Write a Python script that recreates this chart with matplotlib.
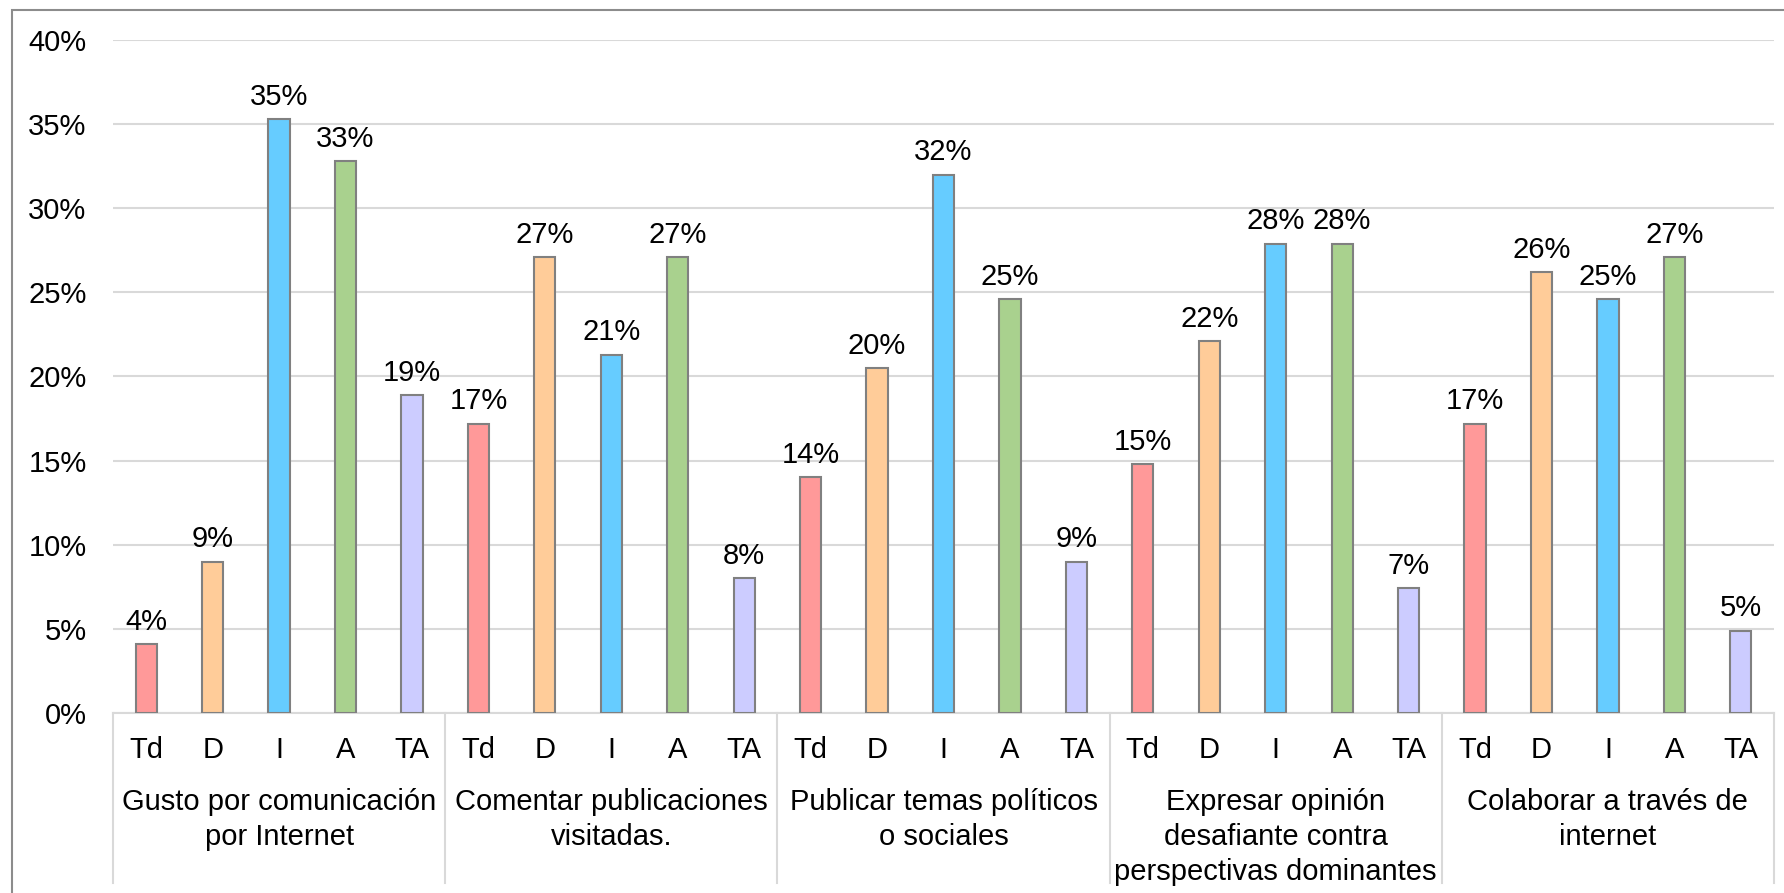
import numpy as np
import matplotlib.pyplot as plt
from matplotlib.patches import Rectangle
import matplotlib.transforms as mtransforms

plt.rcParams['font.family'] = ['Liberation Sans', 'DejaVu Sans']

grupos = ["Gusto por comunicación\npor Internet",
          "Comentar publicaciones\nvisitadas.",
          "Publicar temas políticos\no sociales",
          "Expresar opinión\ndesafiante contra\nperspectivas dominantes",
          "Colaborar a través de\ninternet"]
respuestas = ["Td", "D", "I", "A", "TA"]
colores = ["#FF9999", "#FFCC99", "#66CCFF", "#A9D18E", "#CCCCFF"]

gusto = [4.1, 9.0, 35.3, 32.8, 18.9]
comentar = [17.2, 27.1, 21.3, 27.1, 8.0]
publicar = [14.0, 20.5, 32.0, 24.6, 9.0]
expresar = [14.8, 22.1, 27.9, 27.9, 7.4]
colaborar = [17.2, 26.2, 24.6, 27.1, 4.9]

valores = [gusto, comentar, publicar, expresar, colaborar]

W, H = 1784, 893
fs = 21
fig = plt.figure(figsize=(W / 100, H / 100), dpi=100)
ax = fig.add_axes([113 / W, 1 - 713 / H, (1774 - 113) / W, (713 - 40) / H])

# marco exterior
fig.patches.append(Rectangle((12 / W, -0.2), 1.5, 1 - 10 / H + 0.2, transform=fig.transFigure,
                             fill=False, edgecolor="#8c8c8c", lw=1.5, clip_on=False))

x = 0
pos = []
etiquetas = []
for g, vals in enumerate(valores):
    for i, v in enumerate(vals):
        ax.bar(x, v, width=0.32, color=colores[i], edgecolor="#808080", linewidth=1.5, zorder=3)
        ax.annotate(f"{round(v):.0f}%", (x, v), xytext=(0, 6), textcoords="offset points",
                    ha="center", va="bottom", fontsize=fs)
        pos.append(x)
        etiquetas.append(respuestas[i])
        x += 1

n = len(pos)
ax.set_xlim(-0.5, n - 0.5)
ax.set_ylim(0, 40)
ax.set_yticks(np.arange(0, 41, 5))
ax.set_yticklabels([f"{t}%" for t in range(0, 41, 5)])
ax.set_xticks(pos)
ax.set_xticklabels(etiquetas)
ax.tick_params(axis="both", length=0, labelsize=fs)
ax.tick_params(axis="y", pad=19)
ax.tick_params(axis="x", pad=16.5)
ax.grid(axis="y", color="#d9d9d9", linewidth=1.5, zorder=0)
for s in ["top", "right", "left"]:
    ax.spines[s].set_visible(False)
ax.spines["bottom"].set_color("#d9d9d9")
ax.spines["bottom"].set_linewidth(1.5)

trans = mtransforms.blended_transform_factory(ax.transData, ax.transAxes)
fondo = (713 - 883) / (713 - 40)
for k in range(len(grupos) + 1):
    xs = -0.5 + 5 * k
    ax.plot([xs, xs], [0, fondo], transform=trans, color="#d9d9d9", lw=1.5, clip_on=False)
for k, nombre in enumerate(grupos):
    ax.text(2 + 5 * k, (713 - 788) / (713 - 40), nombre, transform=trans, ha="center", va="top",
            fontsize=fs, linespacing=1.32)

fig.savefig("out.png", dpi=100)
